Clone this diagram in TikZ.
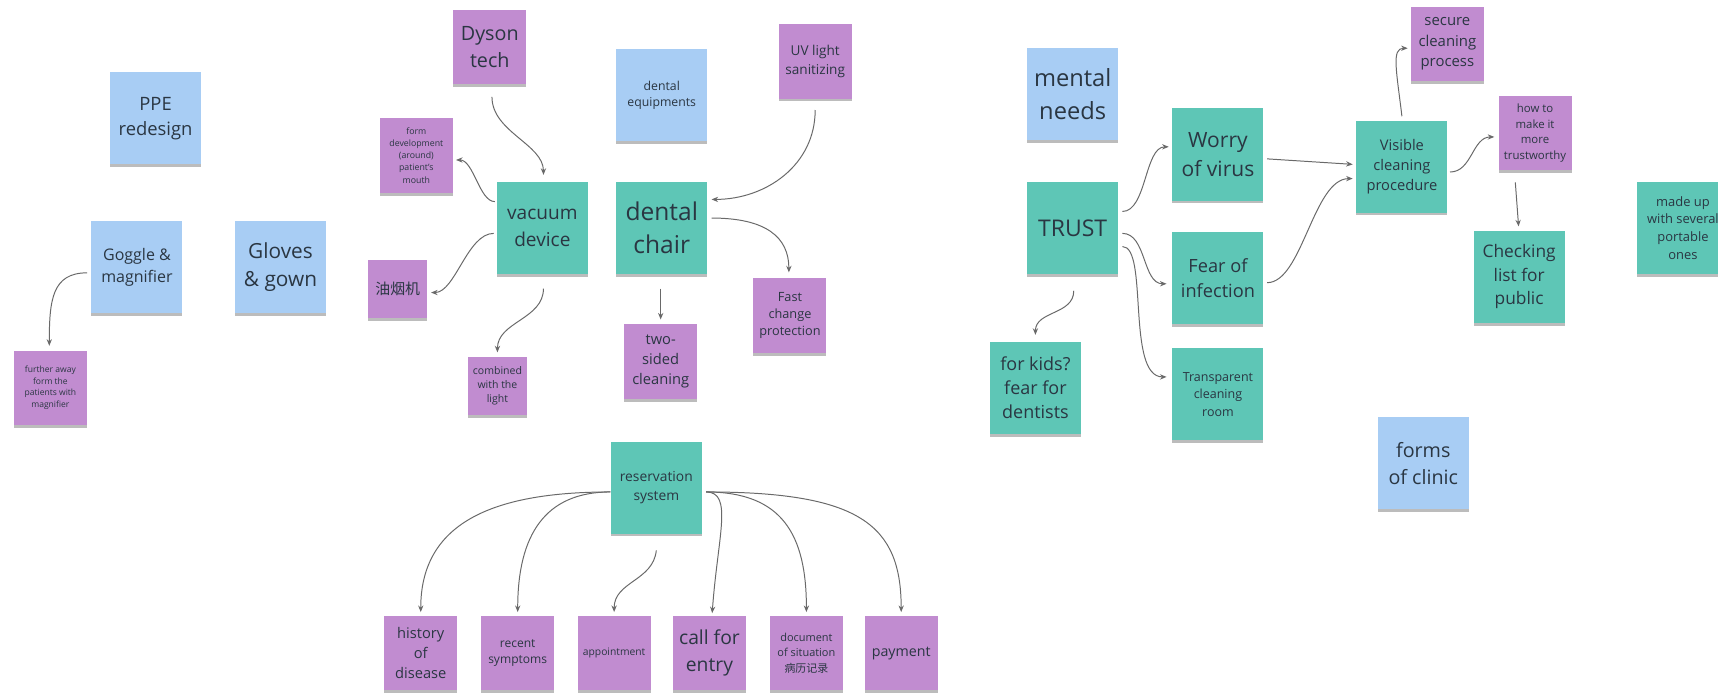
\documentclass[tikz,border=0pt]{standalone}
\usepackage{fontspec}
\setmainfont{Open Sans}
\newfontfamily\cjkfont{Noto Sans CJK SC}
\usetikzlibrary{calc,shadows,arrows.meta}

\definecolor{stblue}{RGB}{168,205,244}
\definecolor{stviolet}{RGB}{193,140,208}
\definecolor{stteal}{RGB}{94,198,182}
\definecolor{ink}{RGB}{42,54,66}
\definecolor{wire}{RGB}{105,105,105}

\newcommand\fz[2]{\fontsize{#1pt}{#2pt}\selectfont}

\tikzset{
  sticky/.style={rectangle, inner sep=0pt, align=center, text=ink,
    drop shadow={shadow xshift=0pt, shadow yshift=-1.3pt, opacity=0.35, fill=black!75}},
  big/.style={sticky, minimum width=41.5pt, minimum height=42pt},
  mid/.style={sticky, minimum width=33.3pt, minimum height=34pt},
  small/.style={sticky, minimum width=27pt, minimum height=26.5pt},
  blue/.style={fill=stblue},
  violet/.style={fill=stviolet},
  teal/.style={fill=stteal},
  link/.style={draw=wire, line width=0.45pt, -{Stealth[length=3pt,width=2.4pt]}},
}

\begin{document}
\begin{tikzpicture}[x=0.5pt, y=-0.5pt]
  \useasboundingbox (0,0) rectangle (1568,637);
  \clip (0,0) rectangle (1568,637);
  \fill[white] (0,0) rectangle (1568,637);

  % ---- personal protection ----
  \node[big,blue,font=\fz{8.4}{11.4}] (ppe) at (142,108) {PPE\\redesign};
  \node[big,blue,font=\fz{7.3}{9.9}] (gog) at (125,244) {Goggle \&\\magnifier};
  \node[big,blue,font=\fz{9.5}{13}] (glo) at (256,244) {Gloves\\\& gown};
  \node[mid,violet,font=\fz{3.9}{5.3}] (fur) at (46,354) {further away\\form the\\patients with\\magnifier};

  % ---- dental equipment ----
  \node[mid,violet,font=\fz{9}{12.2}] (dys) at (447,43) {Dyson\\tech};
  \node[mid,violet,font=\fz{4}{5.5}] (fdev) at (380,142) {form\\development\\(around)\\patient's\\mouth};
  \node[small,violet,font=\fz{6.8}{9}] (oil) at (363,264) {\cjkfont 油烟机};
  \node[small,violet,font=\fz{4.8}{6.5}] (comb) at (454,352) {combined\\with the\\light};
  \node[big,teal,font=\fz{8.7}{11.9}] (vac) at (495,208) {vacuum\\device};
  \node[big,teal,font=\fz{11.2}{15.2}] (chair) at (604,208) {dental\\chair};
  \node[big,blue,font=\fz{5.6}{7.6}] (equip) at (604,87) {dental\\equipments};
  \node[mid,violet,font=\fz{6.2}{8.4}] (uv) at (744,56) {UV light\\sanitizing};
  \node[mid,violet,font=\fz{6.7}{9.2}] (two) at (603,330) {two-\\sided\\cleaning};
  \node[mid,violet,font=\fz{5.8}{7.9}] (fast) at (721,288) {Fast\\change\\protection};

  % ---- reservation ----
  \node[big,teal,font=\fz{6.3}{8.7}] (res) at (599,445) {reservation\\system};
  \node[mid,violet,font=\fz{6.7}{9}] (hist) at (384,596) {history\\of\\disease};
  \node[mid,violet,font=\fz{5.5}{7.3}] (rec) at (472.5,596) {recent\\symptoms};
  \node[mid,violet,font=\fz{4.7}{6.3}] (app) at (560.5,596) {appointment};
  \node[mid,violet,font=\fz{8.8}{12.2}] (call) at (647.5,596) {call for\\entry};
  \node[mid,violet,font=\fz{5}{7}] (doc) at (736,596) {document\\of situation\\{\cjkfont 病历记录}};
  \node[mid,violet,font=\fz{6.5}{8.8}] (pay) at (822.5,596) {payment};

  % ---- trust ----
  \node[big,blue,font=\fz{10.8}{14.8}] (ment) at (979,86) {mental\\needs};
  \node[big,teal,font=\fz{10.5}{14}] (trust) at (979,208) {TRUST};
  \node[big,teal,font=\fz{9.6}{13}] (worry) at (1111.6,141) {Worry\\of virus};
  \node[big,teal,font=\fz{8.3}{11.4}] (fear) at (1111.6,253.4) {Fear of\\infection};
  \node[big,teal,font=\fz{5.7}{7.9}] (trans) at (1111.6,360) {Transparent\\cleaning\\room};
  \node[big,teal,font=\fz{8.2}{10.9}] (kids) at (945,354) {for kids?\\fear for\\dentists};
  \node[big,teal,font=\fz{6.7}{9.2}] (vis) at (1279.5,152) {Visible\\cleaning\\procedure};
  \node[mid,violet,font=\fz{6.8}{9.4}] (sec) at (1321,40) {secure\\cleaning\\process};
  \node[mid,violet,font=\fz{5.2}{7.1}] (how) at (1401,121.4) {how to\\make it\\more\\trustworthy};
  \node[big,teal,font=\fz{7.9}{10.8}] (chk) at (1386.5,252.5) {Checking\\list for\\public};
  \node[big,teal,font=\fz{5.9}{8}] (made) at (1536,208) {made up\\with several\\portable\\ones};
  \node[big,blue,font=\fz{9}{12.2}] (forms) at (1299,423) {forms\\of clinic};

  % ---- connectors: equipment ----
  \draw[link] ($(dys.south)+(2,11)$) .. controls +(0,32) and +(0,-28) .. ($(vac.north)+(1,-6)$);
  \draw[link] ($(vac.west)+(-1.5,-24)$) .. controls +(-14,0) and +(16,0) .. ($(fdev.east)+(2.5,4)$);
  \draw[link] ($(vac.west)+(-2.5,5)$) .. controls +(-24,0) and +(22,0) .. ($(oil.east)+(3,3)$);
  \draw[link] ($(vac.south)+(1,13)$) .. controls +(0,28) and +(0,-28) .. ($(comb.north)+(0,-3.5)$);
  \draw[link] ($(uv.south)+(0,10)$) .. controls +(0,50) and +(50,0) .. ($(chair.east)+(3.5,-26)$);
  \draw[link] ($(chair.south)+(-1,13)$) -- ($(two.north)+(0,-4)$);
  \draw[link] ($(chair.east)+(3.5,-9)$) .. controls +(50,0) and +(0,-32) .. ($(fast.north)+(-1,-5)$);
  \draw[link] ($(gog.west)+(-3.5,5)$) .. controls +(-32,0) and +(0,-42) .. ($(fur.north)+(-1,-4)$);

  % ---- connectors: reservation ----
  \draw[link] ($(res.west)+(0,4)$) .. controls +(-110,0) and +(0,-80) .. ($(hist.north)+(0,-3)$);
  \draw[link] ($(res.west)+(0,4)$) .. controls +(-60,0) and +(0,-70) .. ($(rec.north)+(0,-3)$);
  \draw[link] ($(res.south)+(0,15)$) .. controls +(-3,28) and +(0,-28) .. ($(app.north)+(0,-3)$);
  \draw[link] ($(res.east)+(3.5,4)$) .. controls +(25,0) and +(5,-70) .. ($(call.north)+(2.5,-2)$);
  \draw[link] ($(res.east)+(3.5,4)$) .. controls +(70,0) and +(0,-70) .. ($(doc.north)+(0,-3)$);
  \draw[link] ($(res.east)+(3.5,4)$) .. controls +(140,0) and +(0,-80) .. ($(pay.north)+(0,-3)$);

  % ---- connectors: trust ----
  \draw[link] ($(trust.east)+(3.5,-15)$) .. controls +(22,0) and +(-22,0) .. ($(worry.west)+(-3,-7)$);
  \draw[link] ($(trust.east)+(3.5,5)$) .. controls +(22,0) and +(-22,0) .. ($(fear.west)+(-5,5.6)$);
  \draw[link] ($(trust.east)+(3.5,17)$) .. controls +(24,0) and +(-37,0) .. ($(trans.west)+(-5,-16)$);
  \draw[link] ($(trust.south)+(1,15)$) .. controls +(0,22) and +(0,-22) .. ($(kids.north)+(0,-6)$);
  \draw[link] ($(worry.east)+(3,4)$) -- ($(vis.west)+(-3,-2)$);
  \draw[link] ($(fear.east)+(3,4.6)$) .. controls +(32,0) and +(-36,0) .. ($(vis.west)+(-3,11)$);
  \draw[link] ($(vis.north)+(0,-3.5)$) .. controls +(-5,-42) and +(-15,0) .. ($(sec.west)+(-2.5,4)$);
  \draw[link] ($(vis.east)+(2,5)$) .. controls +(20,0) and +(-20,0) .. ($(how.west)+(-3.5,3.6)$);
  \draw[link] ($(how.south)+(-18,10.6)$) -- ($(chk.north)+(-0.5,-3.5)$);
\end{tikzpicture}
\end{document}
